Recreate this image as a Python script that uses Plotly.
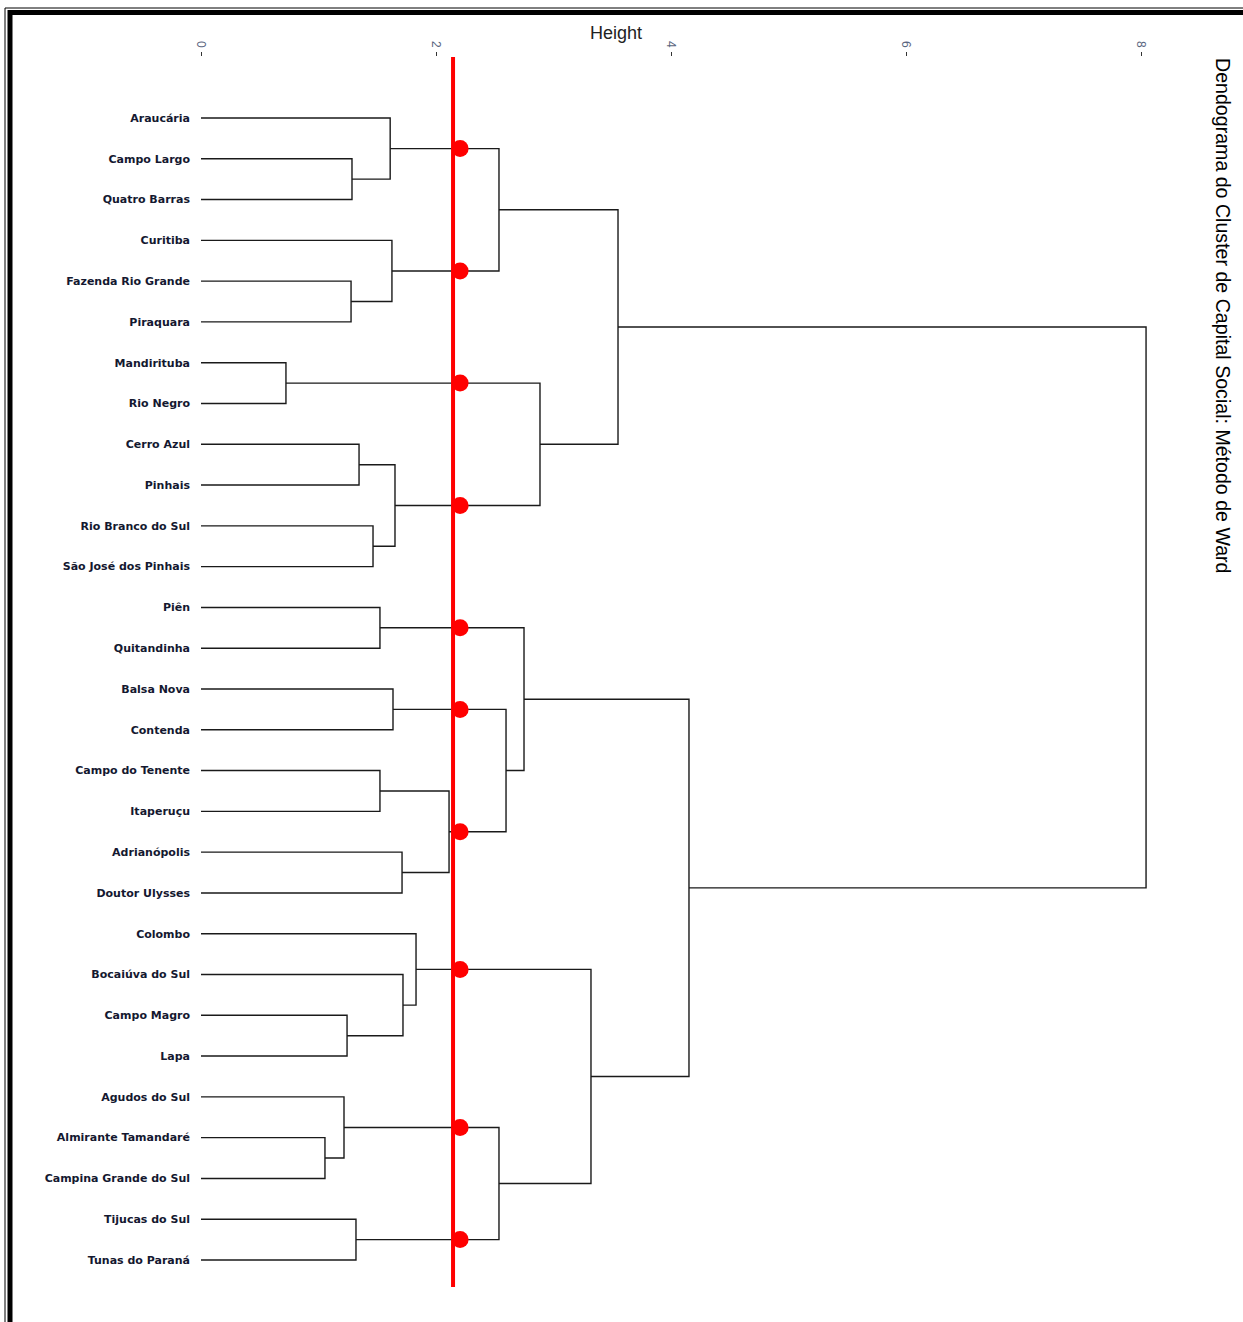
import plotly.graph_objects as go

# ---------------- data ----------------
leaf_labels = [
    "Araucária", "Campo Largo", "Quatro Barras", "Curitiba", "Fazenda Rio Grande",
    "Piraquara", "Mandirituba", "Rio Negro", "Cerro Azul", "Pinhais",
    "Rio Branco do Sul", "São José dos Pinhais", "Piên", "Quitandinha", "Balsa Nova",
    "Contenda", "Campo do Tenente", "Itaperuçu", "Adrianópolis", "Doutor Ulysses",
    "Colombo", "Bocaiúva do Sul", "Campo Magro", "Lapa", "Agudos do Sul",
    "Almirante Tamandaré", "Campina Grande do Sul", "Tijucas do Sul", "Tunas do Paraná",
]
# merges: node ids 0..28 are leaves, merge k creates node 29+k
merge_left = [1, 0, 4, 3, 30, 6, 8, 10, 35, 34, 33, 12, 14, 16, 18, 42, 41, 40,
              22, 21, 20, 25, 24, 27, 51, 49, 46, 39]
merge_right = [2, 29, 5, 31, 32, 7, 9, 11, 36, 37, 38, 13, 15, 17, 19, 43, 44, 45,
               23, 47, 48, 26, 50, 28, 52, 53, 54, 55]
merge_height = [1.285, 1.61, 1.277, 1.625, 2.536, 0.723, 1.345, 1.464, 1.651, 2.885,
                3.549, 1.523, 1.634, 1.523, 1.711, 2.111, 2.596, 2.749, 1.243, 1.719,
                1.830, 1.055, 1.217, 1.319, 2.536, 3.319, 4.153, 8.043]
cut_height = 2.145
height_ticks = [0, 2, 4, 6, 8]

# ---------------- geometry ----------------
n = len(leaf_labels)
node_y = {i: i + 1 for i in range(n)}
node_h = {i: 0.0 for i in range(n)}
xs, ys = [], []
for k, (a, b, h) in enumerate(zip(merge_left, merge_right, merge_height)):
    nid = n + k
    ya, yb = node_y[a], node_y[b]
    xs += [node_h[a], h, h, node_h[b], None]
    ys += [ya, ya, yb, yb, None]
    node_y[nid] = (ya + yb) / 2
    node_h[nid] = h

# points where branches cross the cut line
dot_y = []
for k, (a, b, h) in enumerate(zip(merge_left, merge_right, merge_height)):
    if h > cut_height:
        for c in (a, b):
            if node_h[c] < cut_height:
                dot_y.append(node_y[c])

W, H = 1243, 1322
L, R, T, B = 201, 67, 57, 35
pw, ph = W - L - R, H - T - B

def px(x):
    return (x - L) / pw

def py(y):
    return (H - B - y) / ph

fig = go.Figure()
fig.add_trace(go.Scatter(x=xs, y=ys, mode="lines",
                         line=dict(color="#1a1a1a", width=1.4),
                         hoverinfo="skip", showlegend=False))
fig.add_trace(go.Scatter(x=[cut_height + 0.06] * len(dot_y), y=dot_y, mode="markers",
                         marker=dict(color="#ff0000", size=17),
                         hoverinfo="skip", showlegend=False))

shapes = [
    dict(type="line", xref="x", yref="paper", x0=cut_height, x1=cut_height, y0=0, y1=1,
         line=dict(color="#ff0000", width=4)),
    # frame (top and left, double line)
    dict(type="line", xref="paper", yref="paper", x0=px(5), x1=px(W + 5), y0=py(8), y1=py(8),
         line=dict(color="black", width=1)),
    dict(type="line", xref="paper", yref="paper", x0=px(8), x1=px(W + 5), y0=py(12.5), y1=py(12.5),
         line=dict(color="black", width=5)),
    dict(type="line", xref="paper", yref="paper", x0=px(5), x1=px(5), y0=py(8), y1=py(H + 5),
         line=dict(color="black", width=1)),
    dict(type="line", xref="paper", yref="paper", x0=px(10), x1=px(10), y0=py(10), y1=py(H + 5),
         line=dict(color="black", width=5)),
]

fig.update_layout(
    width=W, height=H,
    margin=dict(l=L, r=R, t=T, b=B),
    paper_bgcolor="white", plot_bgcolor="white",
    shapes=shapes,
    xaxis=dict(side="top", range=[0, pw / 117.5], tickvals=height_ticks,
               ticktext=[str(v) for v in height_ticks],
               tickangle=90, ticks="outside", ticklen=4, tickcolor="#333",
               tickfont=dict(family="Arial", size=12, color="#5a6680"),
               showgrid=False, zeroline=False, showline=False),
    yaxis=dict(range=[29.662, -0.4955], tickvals=list(range(1, n + 1)), ticktext=leaf_labels,
               ticks="", ticklabelstandoff=10,
               tickfont=dict(family="DejaVu Sans", size=11, color="#141830", weight="bold"),
               showgrid=False, zeroline=False, showline=False),
    annotations=[
        dict(text="Height", xref="paper", yref="paper", x=px(616), y=py(33),
             showarrow=False, xanchor="center", yanchor="middle",
             font=dict(family="Arial", size=18, color="#222")),
        dict(text="Dendograma do Cluster de Capital Social: Método de Ward",
             xref="paper", yref="paper", x=px(1223), y=py(316), textangle=90,
             showarrow=False, xanchor="center", yanchor="middle",
             font=dict(family="Arial", size=19.6, color="black")),
    ],
)

fig.write_html("out.html")
